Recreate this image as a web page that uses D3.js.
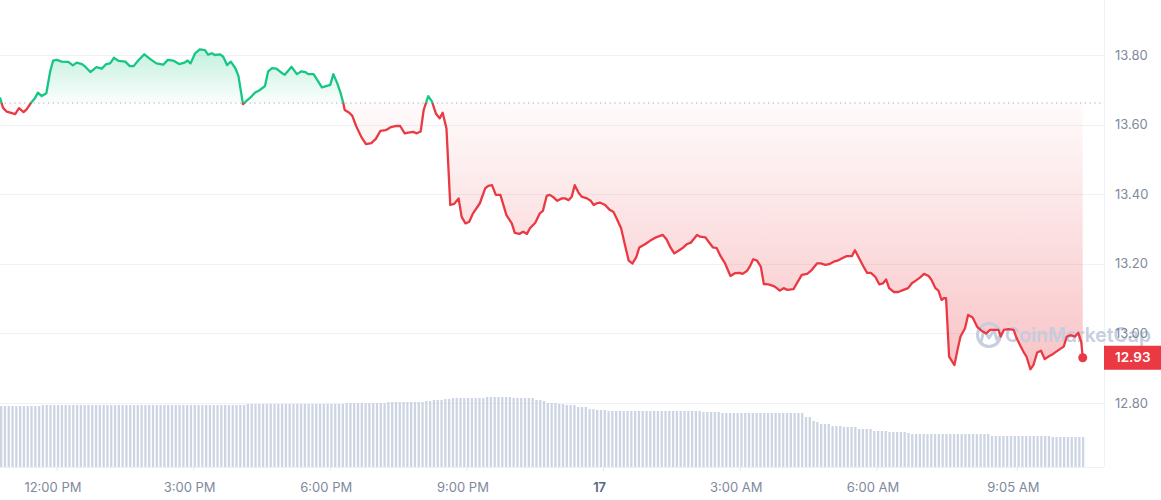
<!DOCTYPE html>
<html>
<head>
<meta charset="utf-8">
<script src="https://cdn.jsdelivr.net/npm/d3@7"></script>
<style>
  html, body { margin: 0; padding: 0; background: #ffffff; }
  svg { display: block; font-family: Inter, "Noto Sans", sans-serif; }
</style>
</head>
<body>
<svg id="chart" width="1161" height="500"></svg>
<script>
// ---------------- DATA ----------------
const startTime = "2024-05-16T10:45";
const endTime = "2024-05-17T10:59";
const referencePrice = 13.662;
const lastPriceLabel = "12.93";

// minutes after startTime for each price vertex
const priceMinutes = [
  0,4,9,20,25,31,35,42,46,50,55,61,66,70,75,81,90,96,101,108,113,119,127,134,140,145,150,156,165,171,
  176,182,190,198,206,215,221,228,236,243,247,251,257,263,270,274,279,283,290,294,299,304,310,314,320,325,330,336,342,349,
  353,358,364,369,375,384,391,397,402,406,413,418,424,435,439,444,448,452,454,460,
  464,469,476,482,489,495,501,508,515,522,527,
  533,538,544,549,554,558,564,569,574,579,583,588,593,598,604,608,613,618,623,632,639,643,648,653,659,667,674,678,684,689,
  694,698,705,711,715,720,724,729,734,740,744,749,753,757,762,766,773,778,782,786,790,
  797,803,808,812,818,822,828,833,838,842,850,856,863,873,878,883,888,893,900,905,910,918,922,929,933,939,944,949,955,962,
  968,974,978,984,988,992,997,1002,1006,1012,1019,1023,1027,1032,1037,1045,1050,1056,1063,1069,1076,1081,1087,1092,1098,1103,1109,1115,1122,1126,
  1132,1137,1142,1147,1153,1158,1163,1167,1171,1177,1183,1190,1196,1201,1207,1212,1217,1223,1227,1232,1236,1240,1243,1246,1250,1257,1261,1265,1271,1275,
  1281,1287,1293,1299,1304,1309,1315,1318,1322,1328,1335,1339,1344,1349,1352,1357,1361,1366,1371,1376,1382,1387,1394,1401,1405,1410,1416,1420,1424,1426
];
const priceValues = [
  13.678,13.648,13.637,13.630,13.647,13.636,13.644,13.666,13.676,13.692,13.682,13.690,13.752,13.784,13.786,13.781,13.780,13.770,13.778,13.774,13.765,13.751,13.765,13.761,13.774,13.776,13.792,13.783,13.781,13.768,
  13.768,13.784,13.802,13.788,13.776,13.772,13.786,13.784,13.774,13.778,13.784,13.776,13.805,13.816,13.814,13.801,13.805,13.800,13.802,13.795,13.771,13.781,13.762,13.740,13.659,13.669,13.678,13.692,13.699,13.711,
  13.752,13.762,13.761,13.752,13.743,13.766,13.745,13.753,13.751,13.745,13.745,13.728,13.707,13.714,13.745,13.720,13.695,13.663,13.642,13.634,
  13.625,13.596,13.564,13.544,13.547,13.559,13.582,13.584,13.593,13.596,13.596,
  13.575,13.577,13.579,13.575,13.580,13.642,13.682,13.666,13.632,13.618,13.634,13.589,13.369,13.372,13.388,13.335,13.316,13.321,13.345,13.374,13.417,13.424,13.426,13.398,13.398,13.340,13.316,13.289,13.286,13.292,
  13.286,13.302,13.318,13.345,13.352,13.395,13.398,13.391,13.381,13.388,13.388,13.383,13.393,13.426,13.404,13.393,13.388,13.381,13.369,13.374,13.376,
  13.369,13.355,13.349,13.331,13.302,13.264,13.209,13.201,13.219,13.247,13.257,13.266,13.275,13.283,13.270,13.247,13.230,13.237,13.247,13.257,13.261,13.283,13.278,13.276,13.264,13.247,13.245,13.222,13.201,13.165,
  13.173,13.174,13.171,13.180,13.194,13.213,13.209,13.192,13.142,13.141,13.136,13.130,13.123,13.130,13.125,13.127,13.146,13.168,13.171,13.182,13.201,13.201,13.197,13.199,13.206,13.209,13.216,13.222,13.222,13.239,
  13.214,13.193,13.174,13.174,13.162,13.141,13.144,13.155,13.130,13.119,13.119,13.125,13.130,13.144,13.153,13.161,13.171,13.165,13.153,13.130,13.123,13.096,13.101,13.101,12.933,12.909,12.952,12.991,13.015,13.053,
  13.046,13.019,13.007,13.000,13.010,13.010,13.010,12.991,13.010,13.012,13.010,12.986,12.964,12.943,12.933,12.897,12.909,12.945,12.950,12.926,12.935,12.941,12.952,12.962,12.991,12.995,12.991,13.002,12.976,12.930
];

// 24h volume (M), one bar per 5 minutes from startTime
const volumeStepMinutes = 5;
const volumeValues = [
  61,61,61,61,61,61,61,61,61,61,61,
  62,62,62,62,62,62,62,62,62,62,
  62,62,62,62,62,62,62,62,62,62,
  62,62,62,62,62,62,62,62,62,62,
  62,62,62,62,62,62,62,62,62,62,
  62,62,62,62,62,62,62,62,62,62,
  62,62,62,62,
  63,63,63,63,63,63,63,63,63,63,
  63,63,63,63,63,63,63,63,63,63,
  63,63,63,63,63,63,
  64,64,64,64,64,64,64,64,64,64,64,
  65,65,65,65,65,65,65,65,65,65,
  66,66,67,67,67,68,68,
  69,69,69,69,69,69,69,69,69,
  70,70,70,70,70,70,70,
  69,69,69,69,69,69,
  67,67,66,64,64,64,63,63,62,62,62,60,60,60,58,58,57,57,57,
  56,56,56,56,56,56,56,56,56,56,
  56,56,56,56,56,56,56,56,56,56,
  56,56,56,56,56,
  55,55,55,55,55,
  54,54,54,54,54,54,54,54,54,54,
  54,54,54,54,54,54,54,54,54,54,
  54,54,
  50,50,46,45,43,43,43,41,41,41,40,40,40,40,38,38,38,38,36,36,36,36,35,35,35,35,35,34,
  33,33,33,33,33,33,33,33,33,33,
  33,33,33,33,33,33,33,33,33,33,
  33,
  31,31,31,31,31,31,31,31,31,31,
  31,31,31,31,31,31,
  30,30,30,30,30,30,30,30,30
];

const yTickValues = [12.8, 13.0, 13.2, 13.4, 13.6, 13.8];
const xTickTimes = ["2024-05-16T12:00","2024-05-16T15:00","2024-05-16T18:00","2024-05-16T21:00","2024-05-17T00:00","2024-05-17T03:00","2024-05-17T06:00","2024-05-17T09:05"];
const xTickLabels = ["12:00 PM","3:00 PM","6:00 PM","9:00 PM","17","3:00 AM","6:00 AM","9:05 AM"];
const watermarkText = "CoinMarketCap";

// ---------------- CHART ----------------
const W = 1161, H = 500;
const plotRight = 1104, plotBottom = 467;
const GREEN = "#16c784", RED = "#ea3943";

const parse = d3.timeParse("%Y-%m-%dT%H:%M");
const t0 = parse(startTime), t1 = parse(endTime);

const x = d3.scaleTime().domain([t0, t1]).range([0, plotRight]);
const y = d3.scaleLinear().domain([12.8, 13.8]).range([403, 55]);
const yVol = d3.scaleLinear().domain([0, 100]).range([plotBottom, plotBottom - 100]);

const prices = priceMinutes.map((m, i) => ({ t: d3.timeMinute.offset(t0, m), p: priceValues[i] }));
const vols = volumeValues.map((v, i) => ({ t: d3.timeMinute.offset(t0, i * volumeStepMinutes), v }));

const svg = d3.select("#chart");
const defs = svg.append("defs");
const yRef = y(referencePrice);

defs.append("clipPath").attr("id", "clipAbove")
  .append("rect").attr("x", 0).attr("y", 0).attr("width", plotRight).attr("height", yRef);
defs.append("clipPath").attr("id", "clipBelow")
  .append("rect").attr("x", 0).attr("y", yRef).attr("width", plotRight).attr("height", H - yRef);

const gGreen = defs.append("linearGradient").attr("id", "gradGreen")
  .attr("gradientUnits", "userSpaceOnUse").attr("x1", 0).attr("x2", 0)
  .attr("y1", y(d3.max(priceValues))).attr("y2", yRef);
gGreen.append("stop").attr("offset", 0).attr("stop-color", GREEN).attr("stop-opacity", 0.26);
gGreen.append("stop").attr("offset", 1).attr("stop-color", GREEN).attr("stop-opacity", 0.02);

const gRed = defs.append("linearGradient").attr("id", "gradRed")
  .attr("gradientUnits", "userSpaceOnUse").attr("x1", 0).attr("x2", 0)
  .attr("y1", yRef).attr("y2", y(d3.min(priceValues)));
gRed.append("stop").attr("offset", 0).attr("stop-color", RED).attr("stop-opacity", 0.02);
gRed.append("stop").attr("offset", 1).attr("stop-color", RED).attr("stop-opacity", 0.3);

// grid lines
svg.append("g").selectAll("line").data(yTickValues).join("line")
  .attr("x1", 0).attr("x2", plotRight)
  .attr("y1", d => Math.round(y(d)) + 0.5).attr("y2", d => Math.round(y(d)) + 0.5)
  .attr("stroke", "#eff2f5").attr("stroke-width", 1);

// frame lines
svg.append("line").attr("x1", plotRight + 0.5).attr("x2", plotRight + 0.5).attr("y1", 0).attr("y2", plotBottom)
  .attr("stroke", "#eff2f5");
svg.append("line").attr("x1", 0).attr("x2", plotRight).attr("y1", plotBottom + 0.5).attr("y2", plotBottom + 0.5)
  .attr("stroke", "#eff2f5");

// volume bars
svg.append("g").selectAll("rect").data(vols).join("rect")
  .attr("x", d => x(d.t))
  .attr("y", d => yVol(d.v))
  .attr("width", 2.3)
  .attr("height", d => yVol(0) - yVol(d.v))
  .attr("fill", "#cdd5e3");

// areas
const area = d3.area().x(d => x(d.t)).y0(yRef).y1(d => y(d.p));
svg.append("path").datum(prices).attr("d", area).attr("fill", "url(#gradGreen)").attr("clip-path", "url(#clipAbove)");
svg.append("path").datum(prices).attr("d", area).attr("fill", "url(#gradRed)").attr("clip-path", "url(#clipBelow)");

// watermark
const wm = svg.append("g").attr("opacity", 0.95);
wm.append("circle").attr("cx", 989).attr("cy", 335).attr("r", 11.5)
  .attr("fill", "none").attr("stroke", "#c3cde0").attr("stroke-width", 3);
wm.append("path").attr("d", "M981,342 L984,330 L989,338 L994,330 L997,340 L1000,336")
  .attr("fill", "none").attr("stroke", "#c3cde0").attr("stroke-width", 3).attr("stroke-linejoin", "round").attr("stroke-linecap", "round");
wm.append("text").attr("x", 1005).attr("y", 342).text(watermarkText)
  .attr("font-size", 20).attr("font-weight", 600).attr("fill", "#c3cde0")
  .attr("textLength", 146).attr("lengthAdjust", "spacingAndGlyphs");

// reference dotted line
svg.append("line").attr("x1", 0).attr("x2", plotRight).attr("y1", yRef).attr("y2", yRef)
  .attr("stroke", "#a1a7bb").attr("stroke-width", 1).attr("stroke-dasharray", "1.2,3.6");

// price line
const line = d3.line().x(d => x(d.t)).y(d => y(d.p));
svg.append("path").datum(prices).attr("d", line).attr("fill", "none").attr("stroke", GREEN)
  .attr("stroke-width", 2.3).attr("stroke-linejoin", "round").attr("clip-path", "url(#clipAbove)");
svg.append("path").datum(prices).attr("d", line).attr("fill", "none").attr("stroke", RED)
  .attr("stroke-width", 2.3).attr("stroke-linejoin", "round").attr("clip-path", "url(#clipBelow)");

// end dot
const last = prices[prices.length - 1];
svg.append("circle").attr("cx", x(last.t)).attr("cy", y(last.p)).attr("r", 4.5).attr("fill", RED);

// y axis labels
svg.append("g").selectAll("text").data(yTickValues).join("text")
  .attr("x", 1115).attr("y", d => y(d)).attr("dy", "0.35em")
  .attr("font-size", 13).attr("fill", "#808a9d")
  .text(d => d3.format(".2f")(d));

// price tag
svg.append("rect").attr("x", plotRight).attr("y", y(last.p) - 12).attr("width", W - plotRight).attr("height", 24)
  .attr("fill", RED);
svg.append("text").attr("x", 1115).attr("y", y(last.p)).attr("dy", "0.35em")
  .attr("font-size", 13.5).attr("font-weight", 600).attr("fill", "#ffffff").text(lastPriceLabel);

// x axis ticks & labels
const xt = xTickTimes.map((s, i) => ({ t: parse(s), label: xTickLabels[i] }));
svg.append("g").selectAll("line").data(xt).join("line")
  .attr("x1", d => x(d.t)).attr("x2", d => x(d.t)).attr("y1", plotBottom).attr("y2", plotBottom + 4)
  .attr("stroke", "#e6e9ee");
svg.append("g").selectAll("text").data(xt).join("text")
  .attr("x", d => x(d.t) - 4).attr("y", 487).attr("dy", "0.35em").attr("text-anchor", "middle")
  .attr("font-size", 13)
  .attr("font-weight", d => d.label === "17" ? 600 : 400)
  .attr("fill", d => d.label === "17" ? "#58667e" : "#808a9d")
  .text(d => d.label);
</script>
</body>
</html>
